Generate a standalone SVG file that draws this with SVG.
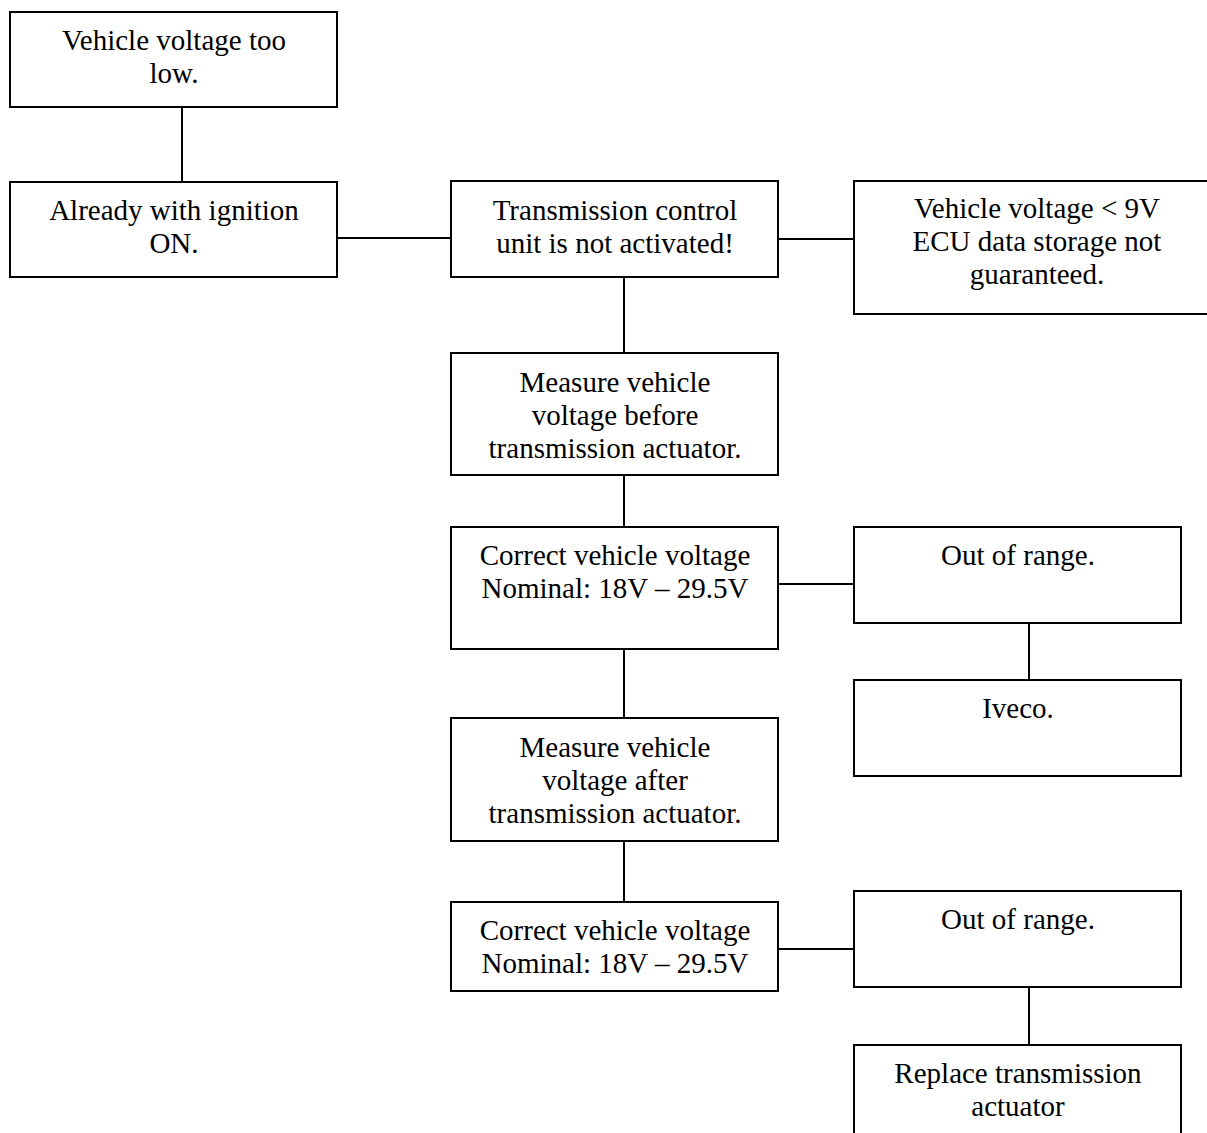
<svg xmlns="http://www.w3.org/2000/svg" width="1207" height="1133" viewBox="0 0 1207 1133">
<style>
rect{fill:#fff;stroke:#000;stroke-width:2}
line{stroke:#000;stroke-width:2}
text{font-family:"Liberation Serif","Times New Roman",serif;font-size:29px;fill:#000;text-anchor:middle}
</style>
<rect x="0" y="0" width="1207" height="1133" style="stroke:none"/>
<g id="connectors">
<line x1="182" y1="107" x2="182" y2="182"/>
<line x1="337" y1="238" x2="451" y2="238"/>
<line x1="778" y1="239" x2="854" y2="239"/>
<line x1="624" y1="277" x2="624" y2="353"/>
<line x1="624" y1="475" x2="624" y2="527"/>
<line x1="778" y1="584" x2="854" y2="584"/>
<line x1="1029" y1="623" x2="1029" y2="680"/>
<line x1="624" y1="649" x2="624" y2="718"/>
<line x1="624" y1="841" x2="624" y2="902"/>
<line x1="778" y1="949" x2="854" y2="949"/>
<line x1="1029" y1="987" x2="1029" y2="1045"/>
</g>
<g id="n1"><rect x="10" y="12" width="327" height="95"/><text x="174" y="50">Vehicle voltage too</text><text x="174" y="83">low.</text></g>
<g id="n2"><rect x="10" y="182" width="327" height="95"/><text x="174" y="220">Already with ignition</text><text x="174" y="253">ON.</text></g>
<g id="n3"><rect x="451" y="181" width="327" height="96"/><text x="615" y="220">Transmission control</text><text x="615" y="253">unit is not activated!</text></g>
<g id="n4"><rect x="854" y="181" width="366" height="133"/><text x="1037" y="218">Vehicle voltage &lt; 9V</text><text x="1037" y="251">ECU data storage not</text><text x="1037" y="284">guaranteed.</text></g>
<g id="n5"><rect x="451" y="353" width="327" height="122"/><text x="615" y="392">Measure vehicle</text><text x="615" y="425">voltage before</text><text x="615" y="458">transmission actuator.</text></g>
<g id="n6"><rect x="451" y="527" width="327" height="122"/><text x="615" y="565">Correct vehicle voltage</text><text x="615" y="598">Nominal: 18V – 29.5V</text></g>
<g id="n7"><rect x="854" y="527" width="327" height="96"/><text x="1018" y="565">Out of range.</text></g>
<g id="n8"><rect x="854" y="680" width="327" height="96"/><text x="1018" y="718">Iveco.</text></g>
<g id="n9"><rect x="451" y="718" width="327" height="123"/><text x="615" y="757">Measure vehicle</text><text x="615" y="790">voltage after</text><text x="615" y="823">transmission actuator.</text></g>
<g id="n10"><rect x="451" y="902" width="327" height="89"/><text x="615" y="940">Correct vehicle voltage</text><text x="615" y="973">Nominal: 18V – 29.5V</text></g>
<g id="n11"><rect x="854" y="891" width="327" height="96"/><text x="1018" y="929">Out of range.</text></g>
<g id="n12"><rect x="854" y="1045" width="327" height="100"/><text x="1018" y="1083">Replace transmission</text><text x="1018" y="1116">actuator</text></g>
</svg>
